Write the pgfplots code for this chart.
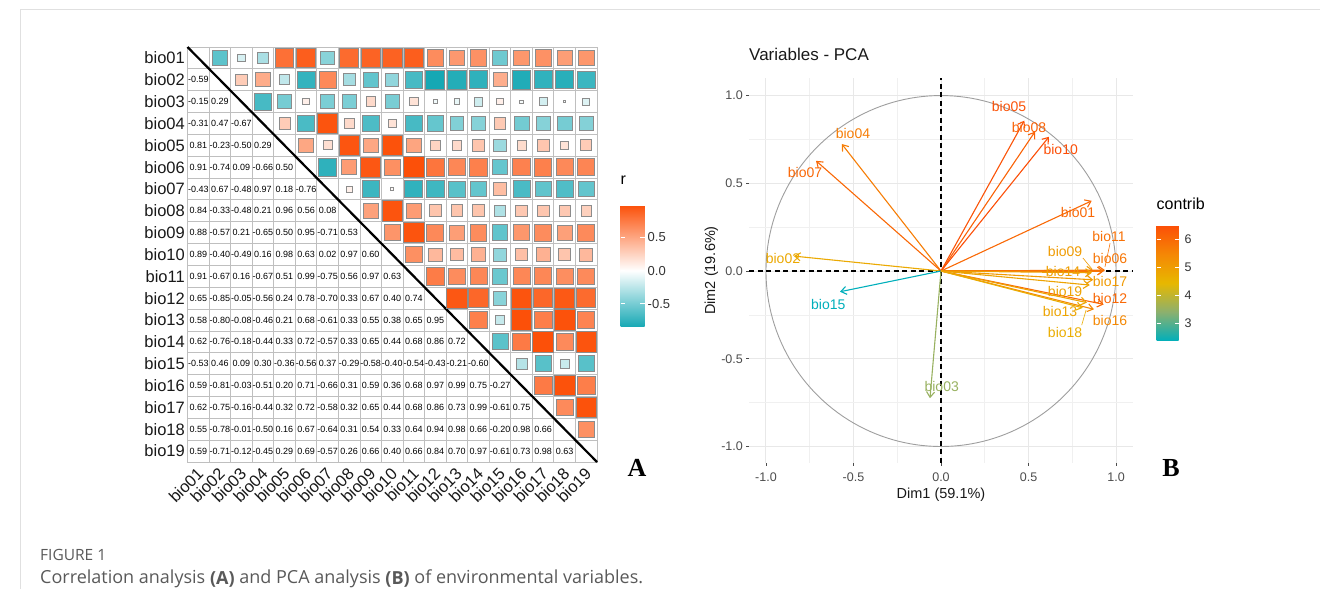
\documentclass[border=0pt]{standalone}
\usepackage{fontspec}
\setmainfont{Liberation Sans}
\newfontfamily\serifb{Liberation Serif}
\newfontfamily\capfont{Open Sans}
\usepackage{pgfplots}
\pgfplotsset{compat=1.18}
\usepackage{pgfplotstable}
\usetikzlibrary{arrows.meta}
\newcommand\fs[1]{\fontsize{#1}{#1}\selectfont}

% label colours = contrib colour scale at each variable's contrib value
\definecolor{c01}{RGB}{249,104,6}
\definecolor{c02}{RGB}{235,168,2}
\definecolor{c03}{RGB}{152,177,96}
\definecolor{c04}{RGB}{246,125,5}
\definecolor{c05}{RGB}{251,82,7}
\definecolor{c06}{RGB}{247,118,6}
\definecolor{c07}{RGB}{249,103,6}
\definecolor{c08}{RGB}{250,98,6}
\definecolor{c09}{RGB}{239,155,3}
\definecolor{c10}{RGB}{252,78,7}
\definecolor{c11}{RGB}{248,113,6}
\definecolor{c12}{RGB}{249,104,6}
\definecolor{c13}{RGB}{237,164,2}
\definecolor{c14}{RGB}{238,159,3}
\definecolor{c15}{RGB}{0,175,187}
\definecolor{c16}{RGB}{244,137,5}
\definecolor{c17}{RGB}{240,154,3}
\definecolor{c18}{RGB}{234,173,1}
\definecolor{c19}{RGB}{237,163,2}

\pgfplotstableread[row sep=\\]{
i j r\\
1 2 -0.59\\
1 3 -0.15\\ 2 3 0.29\\
1 4 -0.31\\ 2 4 0.47\\ 3 4 -0.67\\
1 5 0.81\\ 2 5 -0.23\\ 3 5 -0.50\\ 4 5 0.29\\
1 6 0.91\\ 2 6 -0.74\\ 3 6 0.09\\ 4 6 -0.66\\ 5 6 0.50\\
1 7 -0.43\\ 2 7 0.67\\ 3 7 -0.48\\ 4 7 0.97\\ 5 7 0.18\\ 6 7 -0.76\\
1 8 0.84\\ 2 8 -0.33\\ 3 8 -0.48\\ 4 8 0.21\\ 5 8 0.96\\ 6 8 0.56\\ 7 8 0.08\\
1 9 0.88\\ 2 9 -0.57\\ 3 9 0.21\\ 4 9 -0.65\\ 5 9 0.50\\ 6 9 0.95\\ 7 9 -0.71\\ 8 9 0.53\\
1 10 0.89\\ 2 10 -0.40\\ 3 10 -0.49\\ 4 10 0.16\\ 5 10 0.98\\ 6 10 0.63\\ 7 10 0.02\\ 8 10 0.97\\ 9 10 0.60\\
1 11 0.91\\ 2 11 -0.67\\ 3 11 0.16\\ 4 11 -0.67\\ 5 11 0.51\\ 6 11 0.99\\ 7 11 -0.75\\ 8 11 0.56\\ 9 11 0.97\\ 10 11 0.63\\
1 12 0.65\\ 2 12 -0.85\\ 3 12 -0.05\\ 4 12 -0.56\\ 5 12 0.24\\ 6 12 0.78\\ 7 12 -0.70\\ 8 12 0.33\\ 9 12 0.67\\ 10 12 0.40\\ 11 12 0.74\\
1 13 0.58\\ 2 13 -0.80\\ 3 13 -0.08\\ 4 13 -0.46\\ 5 13 0.21\\ 6 13 0.68\\ 7 13 -0.61\\ 8 13 0.33\\ 9 13 0.55\\ 10 13 0.38\\ 11 13 0.65\\ 12 13 0.95\\
1 14 0.62\\ 2 14 -0.76\\ 3 14 -0.18\\ 4 14 -0.44\\ 5 14 0.33\\ 6 14 0.72\\ 7 14 -0.57\\ 8 14 0.33\\ 9 14 0.65\\ 10 14 0.44\\ 11 14 0.68\\ 12 14 0.86\\ 13 14 0.72\\
1 15 -0.53\\ 2 15 0.46\\ 3 15 0.09\\ 4 15 0.30\\ 5 15 -0.36\\ 6 15 -0.56\\ 7 15 0.37\\ 8 15 -0.29\\ 9 15 -0.58\\ 10 15 -0.40\\ 11 15 -0.54\\ 12 15 -0.43\\ 13 15 -0.21\\ 14 15 -0.60\\
1 16 0.59\\ 2 16 -0.81\\ 3 16 -0.03\\ 4 16 -0.51\\ 5 16 0.20\\ 6 16 0.71\\ 7 16 -0.66\\ 8 16 0.31\\ 9 16 0.59\\ 10 16 0.36\\ 11 16 0.68\\ 12 16 0.97\\ 13 16 0.99\\ 14 16 0.75\\ 15 16 -0.27\\
1 17 0.62\\ 2 17 -0.75\\ 3 17 -0.16\\ 4 17 -0.44\\ 5 17 0.32\\ 6 17 0.72\\ 7 17 -0.58\\ 8 17 0.32\\ 9 17 0.65\\ 10 17 0.44\\ 11 17 0.68\\ 12 17 0.86\\ 13 17 0.73\\ 14 17 0.99\\ 15 17 -0.61\\ 16 17 0.75\\
1 18 0.55\\ 2 18 -0.78\\ 3 18 -0.01\\ 4 18 -0.50\\ 5 18 0.16\\ 6 18 0.67\\ 7 18 -0.64\\ 8 18 0.31\\ 9 18 0.54\\ 10 18 0.33\\ 11 18 0.64\\ 12 18 0.94\\ 13 18 0.98\\ 14 18 0.66\\ 15 18 -0.20\\ 16 18 0.98\\ 17 18 0.66\\
1 19 0.59\\ 2 19 -0.71\\ 3 19 -0.12\\ 4 19 -0.45\\ 5 19 0.29\\ 6 19 0.69\\ 7 19 -0.57\\ 8 19 0.26\\ 9 19 0.66\\ 10 19 0.40\\ 11 19 0.66\\ 12 19 0.84\\ 13 19 0.70\\ 14 19 0.97\\ 15 19 -0.61\\ 16 19 0.73\\ 17 19 0.98\\ 18 19 0.63\\
}\corrdata

\pgfplotstableread{
name x y contrib
bio01 0.861 0.400 6.03
bio02 -0.840 0.085 4.77
bio03 -0.063 -0.725 3.54
bio04 -0.567 0.724 5.66
bio05 0.476 0.857 6.43
bio06 0.930 0.000 5.79
bio07 -0.714 0.628 6.05
bio08 0.537 0.794 6.15
bio09 0.870 0.004 5.06
bio10 0.617 0.765 6.51
bio11 0.937 0.005 5.87
bio12 0.930 -0.190 6.03
bio13 0.834 -0.180 4.87
bio14 0.862 -0.010 4.97
bio15 -0.577 -0.118 2.37
bio16 0.874 -0.218 5.43
bio17 0.870 -0.050 5.08
bio18 0.810 -0.210 4.68
bio19 0.850 -0.080 4.88
}\pcadata

\begin{document}
\begin{tikzpicture}
\path[use as bounding box] (0pt,0pt) rectangle (1320pt,589pt);
\draw[black!12, line width=1pt] (20pt,-2pt) -- (20pt,579pt) -- (1322pt,579pt);

% ---------------- Panel A: correlation matrix
\begin{axis}[
  at={(187.5pt,127pt)}, anchor=south west,
  scale only axis, width=409.5pt, height=415pt,
  xmin=0.5, xmax=19.5, ymin=0.5, ymax=19.5, y dir=reverse,
  xtick={1,...,19}, ytick={1,...,19},
  xticklabels={bio01,bio02,bio03,bio04,bio05,bio06,bio07,bio08,bio09,bio10,bio11,bio12,bio13,bio14,bio15,bio16,bio17,bio18,bio19},
  yticklabels={bio01,bio02,bio03,bio04,bio05,bio06,bio07,bio08,bio09,bio10,bio11,bio12,bio13,bio14,bio15,bio16,bio17,bio18,bio19},
  minor xtick={1.5,2.5,...,18.5}, minor ytick={1.5,2.5,...,18.5},
  xminorgrids=true, yminorgrids=true,
  minor grid style={draw=black!25, line width=0.8pt},
  major tick length=0pt, minor tick length=0pt,
  axis line style={draw=black!25, line width=0.8pt},
  tick label style={font=\fs{16.5}, text=black!90},
  yticklabel style={anchor=east, inner sep=0pt, xshift=-2.5pt},
  xticklabel style={inner sep=0pt, yshift=-9pt, xshift=2pt, rotate=45, anchor=east},
  colormap={corrmap}{rgb255(0pt)=(22,168,180) rgb255(85pt)=(255,255,255) rgb255(184pt)=(252,80,9)},
  point meta min=-0.85, point meta max=0.99,
  colorbar, colorbar/width=24pt,
  colorbar style={
    at={(parent axis.north east)}, anchor=north west, xshift=15pt, yshift=-158pt,
    scale only axis, width=24pt, height=122pt,
    ytick={-0.5,0,0.5}, yticklabels={-0.5,0.0,0.5},
    yticklabel pos=right, ytick pos=both,
    yticklabel style={font=\fs{13}, text=black!80, inner sep=0pt, anchor=west, xshift=3pt},
    tick align=inside, major tick length=4.5pt,
    major tick style={draw=white, line width=0.8pt},
    axis line style={draw=none},
    title={r}, title style={at={(0,1)}, anchor=base west, yshift=14pt, inner sep=0pt, font=\fs{16}},
  },
  clip=false,
]
% squares: side proportional to sqrt(|r|), colour from the colormap
\addplot[scatter, only marks, mark=square*, mark size=1pt,
  point meta=\thisrow{r},
  scatter/@pre marker code/.code={%
    \pgfplotscolormapdefinemappedcolor{\pgfplotspointmetatransformed}%
    \pgfmathsetmacro\sq{10.3*sqrt(abs(-0.85+0.00184*\pgfplotspointmetatransformed))}%
    \path[fill=mapped color, draw=black!45, line width=0.8pt] (-\sq pt,-\sq pt) rectangle (\sq pt,\sq pt);%
    \scope[opacity=0]%
  },
  scatter/@post marker code/.code={\endscope}]
  table[x=j, y=i]{\corrdata};
\addplot[only marks, mark=none, point meta=explicit symbolic,
  nodes near coords, nodes near coords align=center,
  every node near coord/.append style={font=\fs{9}, anchor=center, inner sep=0pt, text=black}]
  table[x=i, y=j, meta=r]{\corrdata};
\addplot[black, line width=2.2pt] coordinates {(0.5,0.5) (19.5,19.5)};
\end{axis}

% ---------------- Panel B: PCA variables
\begin{axis}[
  at={(749pt,126pt)}, anchor=south west,
  scale only axis, width=384pt, height=385pt,
  xmin=-1.097, xmax=1.097, ymin=-1.094, ymax=1.10,
  xtick={-1,-0.5,0,0.5,1}, ytick={-1,-0.5,0,0.5,1},
  xticklabels={-1.0,-0.5,0.0,0.5,1.0}, yticklabels={-1.0,-0.5,0.0,0.5,1.0},
  minor xtick={-0.75,-0.25,0.25,0.75}, minor ytick={-0.75,-0.25,0.25,0.75},
  grid=both,
  major grid style={draw=black!9, line width=1pt},
  minor grid style={draw=black!6, line width=0.6pt},
  axis line style={draw=none},
  tick pos=left, tick align=outside, major tick length=3pt, minor tick length=0pt,
  major tick style={draw=black!70, line width=0.9pt},
  tick label style={font=\fs{12.5}, text=black!70, inner sep=0pt},
  xticklabel style={anchor=north, yshift=-7pt},
  yticklabel style={anchor=east, xshift=-3pt},
  title={Variables - PCA},
  title style={at={(0,1)}, anchor=base west, yshift=11pt, inner sep=0pt, font=\fs{17}, text=black!90},
  xlabel={Dim1 (59.1\%)},
  xlabel style={at={(axis description cs:0.5,-0.091)}, anchor=base, inner sep=0pt, font=\fs{14.5}, text=black!90},
  ylabel={Dim2 (19.6\%)},
  ylabel style={at={(axis description cs:-0.0885,0.5)}, anchor=base, inner sep=0pt, font=\fs{14.5}, text=black!90},
  colormap={contribmap}{rgb255=(0,175,187) rgb255=(140,176,110) rgb255=(231,184,0) rgb255=(245,135,5) rgb255=(252,78,7)},
  point meta min=2.37, point meta max=6.51,
  colorbar, colorbar/width=22pt,
  colorbar style={
    at={(parent axis.north east)}, anchor=north west, xshift=15pt, yshift=-147pt,
    scale only axis, width=22pt, height=116pt,
    ytick={3,4,5,6}, yticklabels={3,4,5,6},
    yticklabel pos=right, ytick pos=both,
    yticklabel style={font=\fs{12.5}, text=black!80, inner sep=0pt, anchor=west, xshift=6pt},
    tick align=inside, major tick length=4pt,
    major tick style={draw=white, line width=0.8pt},
    axis line style={draw=none},
    title={contrib}, title style={at={(0,1)}, anchor=base west, yshift=9pt, inner sep=0pt, font=\fs{16}},
  },
  clip=false,
]
\addplot[black!38, line width=0.9pt, domain=0:360, samples=181] ({cos(x)},{sin(x)});
\addplot[black, line width=1.2pt, dash pattern=on 5pt off 3.5pt] coordinates {(-1.097,0) (1.097,0)};
\addplot[black, line width=1.2pt, dash pattern=on 5pt off 3.5pt] coordinates {(0,-1.094) (0,1.10)};
\addplot[point meta=\thisrow{contrib},
  quiver={u=\thisrow{x}, v=\thisrow{y}, colored=mapped color,
    every arrow/.append style={line width=1.1pt, -{Straight Barb[length=5.5pt, width=8pt]}}}]
  table[x expr=0, y expr=0]{\pcadata};
% label leader segments
\addplot[c11, line width=0.6pt] coordinates {(0.966,0.158) (0.937,0.024)};
\addplot[c09, line width=0.6pt] coordinates {(0.811,0.074) (0.863,0.011)};
\addplot[c18, line width=0.6pt] coordinates {(0.804,-0.308) (0.829,-0.222)};
% variable labels
\begin{scope}[every node/.style={font=\fs{14}, inner sep=0pt, anchor=center}]
\node[text=c01] at (axis cs:0.783,0.332) {bio01};
\node[text=c02] at (axis cs:-0.903,0.074) {bio02};
\node[text=c03] at (axis cs:0.004,-0.659) {bio03};
\node[text=c04] at (axis cs:-0.503,0.786) {bio04};
\node[text=c05] at (axis cs:0.389,0.936) {bio05};
\node[text=c06] at (axis cs:0.966,0.072) {bio06};
\node[text=c07] at (axis cs:-0.777,0.560) {bio07};
\node[text=c08] at (axis cs:0.503,0.819) {bio08};
\node[text=c09] at (axis cs:0.709,0.110) {bio09};
\node[text=c10] at (axis cs:0.684,0.695) {bio10};
\node[text=c11] at (axis cs:0.960,0.194) {bio11};
\node[text=c12] at (axis cs:0.966,-0.154) {bio12};
\node[text=c13] at (axis cs:0.680,-0.232) {bio13};
\node[text=c14] at (axis cs:0.697,-0.004) {bio14};
\node[text=c15] at (axis cs:-0.644,-0.188) {bio15};
\node[text=c16] at (axis cs:0.966,-0.283) {bio16};
\node[text=c17] at (axis cs:0.966,-0.061) {bio17};
\node[text=c18] at (axis cs:0.709,-0.352) {bio18};
\node[text=c19] at (axis cs:0.709,-0.114) {bio19};
\end{scope}
\end{axis}

\node[font=\serifb\bfseries\fs{26}, anchor=base, inner sep=0pt] at (637pt,112pt) {A};
\node[font=\serifb\bfseries\fs{26}, anchor=base, inner sep=0pt] at (1171pt,112pt) {B};

\node[font=\capfont\fs{15.5}, text=black!65, anchor=base west, inner sep=0pt] at (40pt,28pt) {FIGURE 1};
\node[font=\capfont\fs{18}, text=black!65, anchor=base west, inner sep=0pt] at (40pt,5pt) {Correlation analysis \textbf{(A)} and PCA analysis \textbf{(B)} of environmental variables.};
\end{tikzpicture}
\end{document}
